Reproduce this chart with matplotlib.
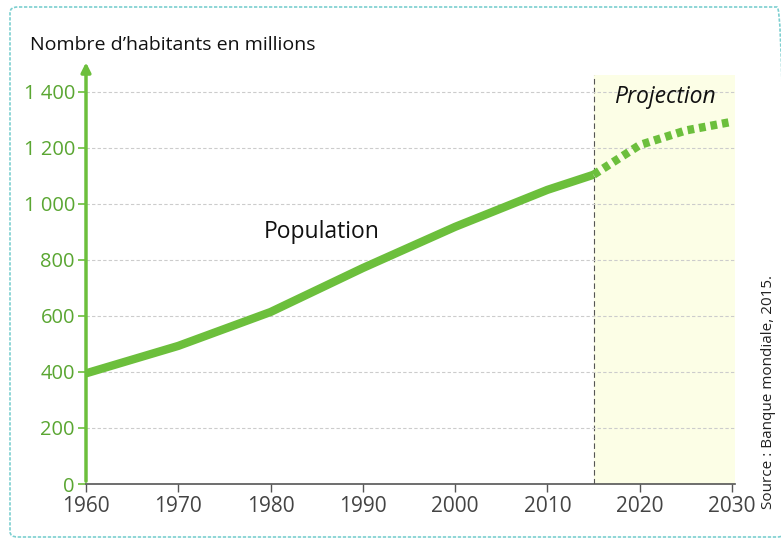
import numpy as np
import matplotlib.pyplot as plt
from matplotlib.patches import FancyBboxPatch

plt.rcParams['font.family'] = ['Open Sans', 'DejaVu Sans']

# données (millions d'habitants)
annees = [1960, 1970, 1980, 1990, 2000, 2010, 2015]
population = [395, 493, 614, 771, 918, 1050, 1104]
annees_proj = [2015, 2020, 2025, 2030]
population_proj = [1104, 1210, 1262, 1293]
yticks = [0, 200, 400, 600, 800, 1000, 1200, 1400]
ytick_labels = ['0', '200', '400', '600', '800', '1 000', '1 200', '1 400']
xticks = [1960, 1970, 1980, 1990, 2000, 2010, 2020, 2030]

vert = '#6cbf3c'
vert_txt = '#5aa632'

fig = plt.figure(figsize=(7.81, 5.45), dpi=100)
W, H = 781, 545
x0, x1 = 86, 732
ppy = (x1 - x0) / 70
xmax = 2030.3
ax = fig.add_axes([x0 / W, (H - 484) / H, (xmax - 1960) * ppy / W, (484 - 75) / H])
ax.set_xlim(1960, xmax)
ax.set_ylim(0, 1460)

# cadre en pointillés
fig.patches.append(FancyBboxPatch((10 / W, 8 / H), 775 / W, 530 / H,
                                  boxstyle='round,pad=0,rounding_size=0.01',
                                  transform=fig.transFigure, fill=False,
                                  edgecolor='#7ccfd0', lw=1.2, ls=(0, (2, 1))))

# zone de projection
ax.axvspan(2015, xmax, color='#fcfee6', zorder=0)
ax.axvline(2015, color='#555555', lw=0.8, ls=(0, (5, 3)), zorder=1)

for v in yticks[1:]:
    ax.axhline(v, color='#cccccc', lw=0.8, ls=(0, (3, 2)), zorder=1)

ax.plot(annees, population, color=vert, lw=6, solid_capstyle='butt', zorder=3)
ax.plot(annees_proj, population_proj, color=vert, lw=6, ls=(0, (0.8, 0.6)), zorder=3)

for s in ['top', 'right', 'left']:
    ax.spines[s].set_visible(False)
ax.spines['bottom'].set_color('#555555')
ax.spines['bottom'].set_linewidth(1.2)

# axe vertical fléché
ax.annotate('', xy=(1960, 1515), xytext=(1960, 0), annotation_clip=False,
            arrowprops=dict(arrowstyle='-|>', color=vert, lw=2.5, mutation_scale=14))

ax.set_yticks(yticks)
ax.set_yticklabels(ytick_labels, color=vert_txt, fontsize=14.5)
ax.tick_params(axis='y', length=6, color=vert, width=1.2, pad=2)
ax.set_xticks(xticks)
ax.set_xticklabels([str(x) for x in xticks], color='#444444', fontsize=15)
ax.tick_params(axis='x', length=6, color='#555555', width=1, pad=3)

ax.text(1985.5, 900, 'Population', fontsize=16.5, color='#111111', ha='center', va='center')
ax.text(2022.7, 1380, 'Projection', fontsize=16.5, color='#111111', ha='center',
        va='center', style='italic')
fig.text(30 / W, 1 - 45 / H, 'Nombre d\u2019habitants en millions', fontsize=14,
         color='#111111', ha='left', va='center')
fig.text(768 / W, 1 - 392 / H, 'Source : Banque mondiale, 2015.', fontsize=11,
         color='#222222', rotation=90, ha='center', va='center')

fig.savefig('out.png', dpi=100)
